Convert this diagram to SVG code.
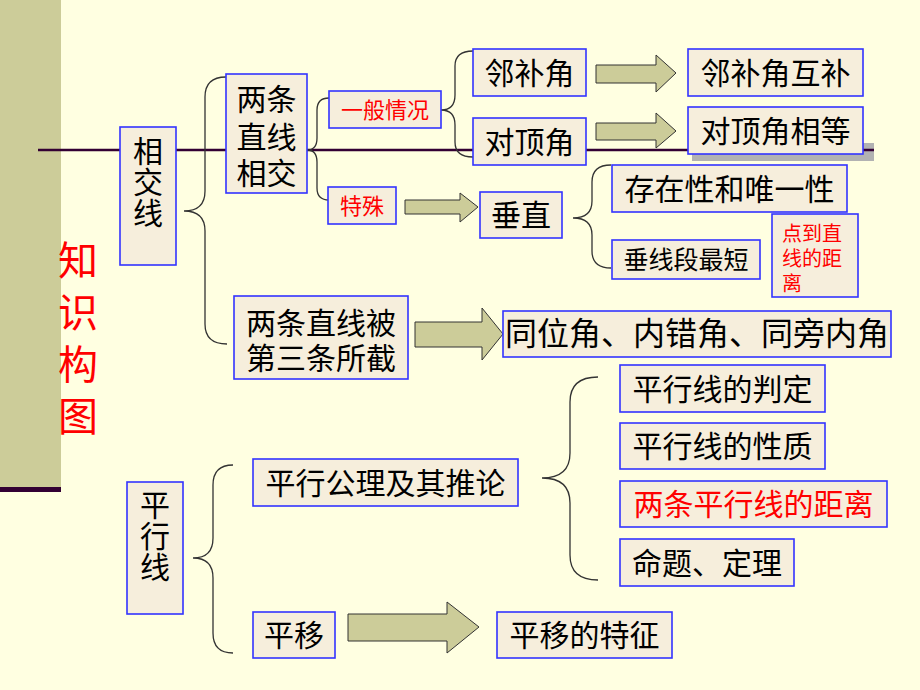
<svg xmlns="http://www.w3.org/2000/svg" width="920" height="690" viewBox="0 0 920 690">
<style>
.bx{fill:#F6EEDC;stroke:#3333FF;stroke-width:1.6}
.t{font-family:"Noto Sans CJK SC","Noto Sans CJK TC",sans-serif;font-size:30px;fill:#000;text-anchor:middle}
.v{writing-mode:vertical-rl;text-orientation:upright}
.r{fill:#FF0000}
.br{fill:none;stroke:#333;stroke-width:1.3}
.ar{fill:#CCCC99;stroke:#333;stroke-width:1}
</style>
<rect x="0" y="0" width="920" height="690" fill="#FFFFE1"/>
<g id="decor">
<rect x="0" y="0" width="61" height="488" fill="#CCCC99"/>
<rect x="0" y="487" width="61" height="5" fill="#330033"/>
<rect x="692" y="143" width="182" height="18" fill="#B2B2B2"/>
<line x1="38" y1="150" x2="874" y2="150" stroke="#330033" stroke-width="2.5"/>
<text class="t r v" x="78" y="344" style="font-size:40px;letter-spacing:12px">知识构图</text>
</g>
<g id="connectors">
<path class="br" d="M226,77 Q205,77 205,97 L205,191 Q205,211 184,211 Q205,211 205,231 L205,324 Q205,344 227,344"/>
<path class="br" d="M329,98 Q317,98 317,110 L317,138 Q317,150 307,150 Q317,150 317,162 L317,188 Q317,200 329,200"/>
<path class="br" d="M473,51 Q455,51 455,66 L455,95 Q455,110 441,110 Q455,110 455,125 L455,142 Q455,157 473,157"/>
<path class="br" d="M611,165 Q592,165 592,182 L592,201 Q592,218 573,218 Q592,218 592,235 L592,251 Q592,268 611,268"/>
<path class="br" d="M598,377 Q570,377 570,402 L570,453 Q570,478 542,478 Q570,478 570,503 L570,555 Q570,580 598,580"/>
<path class="br" d="M233,465 Q213,465 213,485 L213,538 Q213,558 193,558 Q213,558 213,578 L213,633 Q213,653 233,653"/>
<polygon class="ar" points="596,65 656,65 656,55 676,73 656,92 656,83 596,83"/>
<polygon class="ar" points="596,123 656,123 656,113 676,131 656,148 656,140 596,140"/>
<polygon class="ar" points="405,200 460,200 460,193 478,207 460,222 460,214 405,214"/>
<polygon class="ar" points="415,322 482,322 482,308 503,334 482,360 482,347 415,347"/>
<polygon class="ar" points="348,614 447,614 447,602 479,627 447,653 447,641 348,641"/>
</g>
<g id="n-xiangjiaoxian"><rect class="bx" x="120" y="127" width="56" height="138"/><text class="t v" x="148" y="182" style="letter-spacing:1px">相交线</text></g>
<g id="n-liangtiaoxiangjiao"><rect class="bx" x="226" y="74" width="81" height="119"/><text class="t"><tspan x="266.5" y="110">两条</tspan><tspan x="266.5" y="148">直线</tspan><tspan x="266.5" y="184">相交</tspan></text></g>
<g id="n-yiban"><rect class="bx" x="329" y="91" width="112" height="37"/><text class="t r" x="385" y="117.5" style="font-size:22px">一般情况</text></g>
<g id="n-teshu"><rect class="bx" x="328" y="187" width="68" height="37"/><text class="t r" x="362" y="213.5" style="font-size:22px">特殊</text></g>
<g id="n-linbujiao"><rect class="bx" x="473" y="49" width="113" height="47"/><text class="t" x="529.5" y="83.5">邻补角</text></g>
<g id="n-duidingjiao"><rect class="bx" x="473" y="118" width="113" height="47"/><text class="t" x="529.5" y="152.5">对顶角</text></g>
<g id="n-linbujiaohubu"><rect class="bx" x="688" y="49" width="175" height="47"/><text class="t" x="775.5" y="83.5">邻补角互补</text></g>
<g id="n-duidingjiaoxiangdeng"><rect class="bx" x="688" y="107" width="175" height="47"/><text class="t" x="775.5" y="141.5">对顶角相等</text></g>
<g id="n-chuizhi"><rect class="bx" x="480" y="192" width="82" height="46"/><text class="t" x="521" y="226">垂直</text></g>
<g id="n-cunzai"><rect class="bx" x="612" y="165" width="235" height="47"/><text class="t" x="729.5" y="199.5">存在性和唯一性</text></g>
<g id="n-chuixianduan"><rect class="bx" x="612" y="240" width="148" height="39"/><text class="t" x="686" y="268.5" style="font-size:25px">垂线段最短</text></g>
<g id="n-diandaozhixian"><rect class="bx" x="772" y="214" width="86" height="83"/><text class="t r" style="font-size:20px;text-anchor:start"><tspan x="782" y="241">点到直</tspan><tspan x="782" y="266">线的距</tspan><tspan x="782" y="291">离</tspan></text></g>
<g id="n-sanxian"><rect class="bx" x="234" y="296" width="174" height="83"/><text class="t"><tspan x="321" y="334">两条直线被</tspan><tspan x="321" y="369">第三条所截</tspan></text></g>
<g id="n-tongweijiao"><rect class="bx" x="503" y="311" width="388" height="46"/><text class="t" x="697" y="345" style="font-size:32px">同位角、内错角、同旁内角</text></g>
<g id="n-pingxingxian"><rect class="bx" x="127" y="482" width="56" height="132"/><text class="t v" x="155" y="536" style="letter-spacing:1px">平行线</text></g>
<g id="n-gongli"><rect class="bx" x="253" y="459" width="265" height="47"/><text class="t" x="385.5" y="493.5">平行公理及其推论</text></g>
<g id="n-panding"><rect class="bx" x="620" y="365" width="205" height="47"/><text class="t" x="722.5" y="399.5">平行线的判定</text></g>
<g id="n-xingzhi"><rect class="bx" x="620" y="423" width="205" height="46"/><text class="t" x="722.5" y="457">平行线的性质</text></g>
<g id="n-juli"><rect class="bx" x="620" y="481" width="267" height="46"/><text class="t r" x="753.5" y="515">两条平行线的距离</text></g>
<g id="n-mingti"><rect class="bx" x="620" y="539" width="174" height="47"/><text class="t" x="707" y="573.5">命题、定理</text></g>
<g id="n-pingyi"><rect class="bx" x="253" y="612" width="82" height="46"/><text class="t" x="294" y="646">平移</text></g>
<g id="n-pingyitezheng"><rect class="bx" x="497" y="612" width="175" height="46"/><text class="t" x="584.5" y="646">平移的特征</text></g>
</svg>
